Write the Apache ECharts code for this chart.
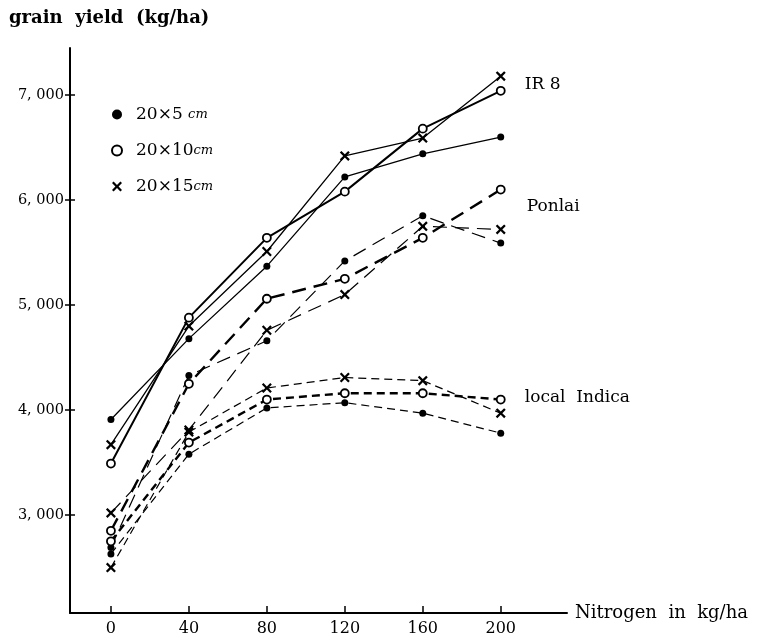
<!DOCTYPE html>
<html>
<head>
<meta charset="utf-8">
<script src="https://cdn.jsdelivr.net/npm/echarts@6/dist/echarts.min.js"></script>
<style>html,body{margin:0;padding:0;background:#fff}#c{width:759px;height:642px}</style>
</head>
<body>
<div id="c"></div>
<script>
// Nitrogen levels (kg/ha)
const nitrogen = [0, 40, 80, 120, 160, 200];
const xTicks = [0, 40, 80, 120, 160, 200];
const yTicks = [3000, 4000, 5000, 6000, 7000];
// grain yield (kg/ha)
const ir8_5   = [3910, 4680, 5370, 6220, 6440, 6600];
const ir8_10  = [3490, 4880, 5640, 6080, 6680, 7040];
const ir8_15  = [3670, 4800, 5510, 6420, 6590, 7180];
const ponlai_5  = [2690, 4330, 4660, 5420, 5850, 5590];
const ponlai_10 = [2850, 4250, 5060, 5250, 5640, 6100];
const ponlai_15 = [3020, 3810, 4760, 5100, 5750, 5720];
const local_5  = [2630, 3580, 4020, 4070, 3970, 3780];
const local_10 = [2750, 3690, 4100, 4160, 4160, 4100];
const local_15 = [2500, 3790, 4210, 4310, 4280, 3970];
const spacing = ['20×5 cm', '20×10cm', '20×15cm'];

const SERIF = "'DejaVu Serif', 'Liberation Serif', serif";
const X_PATH = 'path://M0,1.6 L1.6,0 L5,3.4 L8.4,0 L10,1.6 L6.6,5 L10,8.4 L8.4,10 L5,6.6 L1.6,10 L0,8.4 L3.4,5 Z';

const markerStyle = {
  '20×5 cm': {symbol: 'circle', symbolSize: 7, itemStyle: {color: '#000', borderColor: '#000', borderWidth: 0}},
  '20×10cm': {symbol: 'circle', symbolSize: 8, itemStyle: {color: '#fff', borderColor: '#000', borderWidth: 1.8}},
  '20×15cm': {symbol: X_PATH, symbolSize: 10, itemStyle: {color: '#000', borderColor: '#000', borderWidth: 0}}
};

function mk(values, sp, width, dash, endLabel) {
  const m = markerStyle[sp];
  const s = {
    type: 'line',
    name: sp,
    data: nitrogen.map((n, i) => [n, values[i]]),
    symbol: m.symbol,
    symbolSize: m.symbolSize,
    showAllSymbol: true,
    itemStyle: m.itemStyle,
    lineStyle: {color: '#000', width: width, type: dash},
    z: 3
  };
  if (endLabel) {
    s.endLabel = {
      show: true,
      formatter: endLabel.text,
      offset: endLabel.offset,
      distance: 5,
      color: '#000',
      fontFamily: SERIF,
      fontSize: 17
    };
  }
  return s;
}

const longDash = [14, 8];
const shortDash = [8, 5];

const chart = echarts.init(document.getElementById('c'));
chart.setOption({
  animation: false,
  backgroundColor: '#fff',
  title: {
    text: 'grain  yield  (kg/ha)',
    left: 4, top: 4,
    textStyle: {fontFamily: SERIF, fontSize: 18, fontWeight: 'bold', color: '#000'}
  },
  grid: {left: 70, right: 192, top: 48, bottom: 29, containLabel: false},
  legend: {
    orient: 'vertical',
    left: 106, top: 101,
    itemWidth: 10, itemHeight: 10, itemGap: 19,
    data: [
      {name: spacing[0], icon: 'circle'},
      {name: spacing[1], icon: 'circle'},
      {name: spacing[2], icon: X_PATH}
    ],
    formatter: function (name) {
      const parts = {'20×5 cm': ['20×5 ', 'cm'], '20×10cm': ['20×10', 'cm'], '20×15cm': ['20×15', 'cm']}[name];
      return '{a|' + parts[0] + '}{b|' + parts[1] + '}';
    },
    textStyle: {
      padding: [0, 0, 0, 9],
      rich: {
        a: {fontFamily: SERIF, fontSize: 17, color: '#000'},
        b: {fontFamily: SERIF, fontSize: 13, fontStyle: 'italic', color: '#000'}
      }
    }
  },
  xAxis: {
    type: 'value',
    min: -21, max: 234,
    name: 'Nitrogen  in  kg/ha',
    nameLocation: 'end',
    nameGap: 8,
    nameTextStyle: {fontFamily: SERIF, fontSize: 18, color: '#000'},
    axisLine: {show: true, onZero: false, lineStyle: {color: '#000', width: 2}},
    axisTick: {show: true, inside: true, length: 7, lineStyle: {color: '#000', width: 1.5}, customValues: xTicks},
    axisLabel: {customValues: xTicks, fontFamily: SERIF, fontSize: 16, color: '#000', margin: 8},
    splitLine: {show: false}
  },
  yAxis: [{
    type: 'value',
    min: 2067, max: 7448,
    axisLine: {show: true, onZero: false, lineStyle: {color: '#000', width: 2}},
    axisTick: {show: true, inside: false, length: 5, lineStyle: {color: '#000', width: 1.5}, customValues: yTicks},
    axisLabel: {
      customValues: yTicks, fontFamily: SERIF, fontSize: 14.5, color: '#000', margin: 6,
      formatter: v => Math.floor(v / 1000) + ', ' + String(v % 1000).padStart(3, '0')
    },
    splitLine: {show: false}
  }, {
    type: 'value',
    min: 2067, max: 7448,
    position: 'left',
    axisLine: {show: false, onZero: false},
    axisTick: {show: true, inside: true, length: 5, lineStyle: {color: '#000', width: 1.5}, customValues: yTicks},
    axisLabel: {show: false},
    splitLine: {show: false}
  }],
  series: [
    mk(ir8_5, spacing[0], 1.3, 'solid'),
    mk(ir8_10, spacing[1], 2, 'solid', {text: 'IR 8', offset: [19, -6]}),
    mk(ir8_15, spacing[2], 1.3, 'solid'),
    mk(ponlai_5, spacing[0], 1.2, longDash),
    mk(ponlai_10, spacing[1], 2.4, longDash, {text: 'Ponlai', offset: [21, 17]}),
    mk(ponlai_15, spacing[2], 1.2, longDash),
    mk(local_5, spacing[0], 1.2, shortDash),
    mk(local_10, spacing[1], 2.4, shortDash, {text: 'local  Indica', offset: [19, -2]}),
    mk(local_15, spacing[2], 1.2, shortDash)
  ]
});
</script>
</body>
</html>
